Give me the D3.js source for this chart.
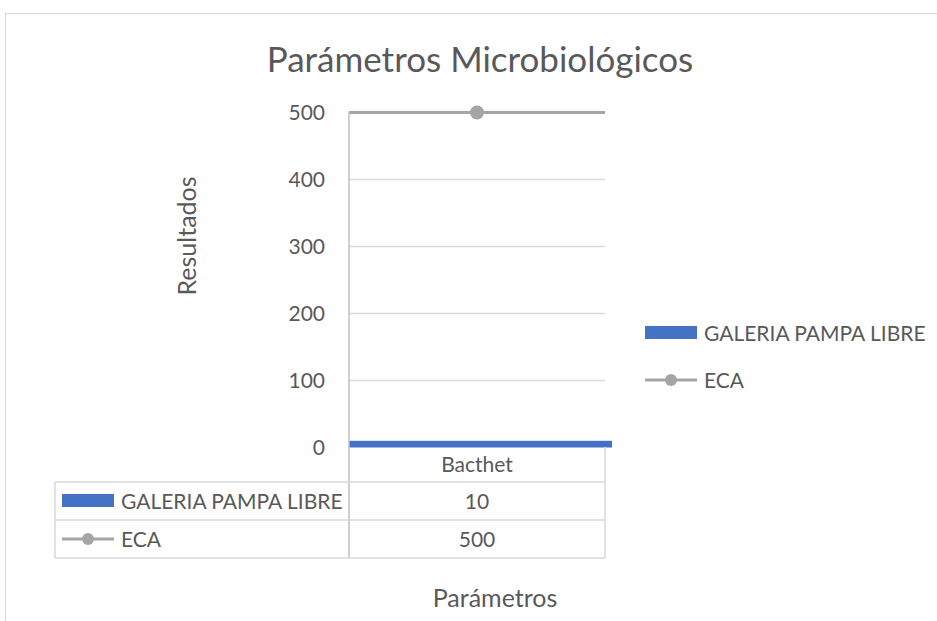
<!DOCTYPE html>
<html>
<head>
<meta charset="utf-8">
<script src="https://cdn.jsdelivr.net/npm/d3@7"></script>
<style>
  body { margin: 0; background: #fff; }
  svg { display: block; font-family: Lato, "Open Sans", sans-serif; }
</style>
</head>
<body>
<svg width="937" height="621"></svg>
<script>
// data
var categories = ['Bacthet'];
var galeria = [10];
var eca = [500];
var yTicks = [0, 100, 200, 300, 400, 500];
var seriesNames = ['GALERIA PAMPA LIBRE', 'ECA'];

var blue = '#4472c4', gray = '#a5a5a5', txt = '#595959', grid = '#d9d9d9';
var fs = 21;
var svg = d3.select('svg');

// chart border
svg.append('rect').attr('x', 5.5).attr('y', 13.5).attr('width', 960).attr('height', 640)
  .attr('fill', 'none').attr('stroke', grid).attr('stroke-width', 1);

// title
svg.append('text').attr('x', 480).attr('y', 72).attr('text-anchor', 'middle')
  .attr('font-size', 35).attr('fill', txt).text('Parámetros Microbiológicos');

var left = 349, right = 605;
var x = d3.scaleBand().domain(categories).range([left, right]).padding(0);
var y = d3.scaleLinear().domain([0, 500]).range([447.5, 112.5]);

// gridlines
svg.append('g').selectAll('line').data(yTicks.filter(function (d) { return d > 0; })).join('line')
  .attr('x1', left).attr('x2', right).attr('y1', function (d) { return y(d); }).attr('y2', function (d) { return y(d); })
  .attr('stroke', grid).attr('stroke-width', 1.5);

// y labels
var yAxis = d3.axisLeft(y).tickValues(yTicks).tickSize(0).tickPadding(24);
var ga = svg.append('g').attr('transform', 'translate(' + left + ',0)').call(yAxis);
ga.select('.domain').remove();
ga.attr('font-size', fs).attr('font-family', 'Lato, sans-serif');
ga.selectAll('text').attr('fill', txt);

// bars
svg.append('g').selectAll('rect').data(galeria).join('rect')
  .attr('x', function (d, i) { return x(categories[i]); })
  .attr('width', x.bandwidth() + 7)
  .attr('y', function (d) { return y(d); })
  .attr('height', function (d) { return y(0) - y(d); })
  .attr('fill', blue);

// ECA line + marker
svg.append('line').attr('x1', left).attr('x2', right).attr('y1', y(eca[0])).attr('y2', y(eca[0]))
  .attr('stroke', gray).attr('stroke-width', 3);
svg.append('g').selectAll('circle').data(eca).join('circle')
  .attr('cx', function (d, i) { return x(categories[i]) + x.bandwidth() / 2; })
  .attr('cy', function (d) { return y(d); }).attr('r', 7).attr('fill', gray);

// y axis line
svg.append('line').attr('x1', left).attr('x2', left).attr('y1', 112).attr('y2', 558)
  .attr('stroke', '#bfbfbf').attr('stroke-width', 1.5);

// data table
var tLeft = 55;
svg.append('line').attr('x1', right).attr('x2', right).attr('y1', 447).attr('y2', 558).attr('stroke', grid).attr('stroke-width', 1.5);
svg.append('line').attr('x1', tLeft).attr('x2', tLeft).attr('y1', 482).attr('y2', 558).attr('stroke', grid).attr('stroke-width', 1.5);
[482, 520, 558].forEach(function (yy) {
  svg.append('line').attr('x1', tLeft).attr('x2', right).attr('y1', yy).attr('y2', yy).attr('stroke', grid).attr('stroke-width', 1.5);
});
var cx = x(categories[0]) + x.bandwidth() / 2;
svg.append('text').attr('x', cx).attr('y', 472).attr('text-anchor', 'middle')
  .attr('font-size', fs).attr('fill', txt).text(categories[0]);
svg.append('text').attr('x', cx).attr('y', 509).attr('text-anchor', 'middle')
  .attr('font-size', fs).attr('fill', txt).text(galeria[0]);
svg.append('text').attr('x', cx).attr('y', 547).attr('text-anchor', 'middle')
  .attr('font-size', fs).attr('fill', txt).text(eca[0]);

function legendKeys(g, x0, y0, y1) {
  g.append('rect').attr('x', x0).attr('y', y0 - 7).attr('width', 52).attr('height', 13).attr('fill', blue);
  g.append('line').attr('x1', x0).attr('x2', x0 + 52).attr('y1', y1).attr('y2', y1).attr('stroke', gray).attr('stroke-width', 3);
  g.append('circle').attr('cx', x0 + 26).attr('cy', y1).attr('r', 6).attr('fill', gray);
  g.append('text').attr('x', x0 + 59).attr('y', y0 + 8).attr('font-size', fs).attr('fill', txt).text(seriesNames[0]);
  g.append('text').attr('x', x0 + 59).attr('y', y1 + 8).attr('font-size', fs).attr('fill', txt).text(seriesNames[1]);
}
legendKeys(svg.append('g'), 62, 501, 539);
legendKeys(svg.append('g'), 645, 333, 380);

// axis titles
svg.append('text').attr('transform', 'translate(196,236) rotate(-90)').attr('text-anchor', 'middle')
  .attr('font-size', 25).attr('fill', txt).text('Resultados');
svg.append('text').attr('x', 495).attr('y', 607).attr('text-anchor', 'middle')
  .attr('font-size', 25).attr('fill', txt).text('Parámetros');
</script>
</body>
</html>
